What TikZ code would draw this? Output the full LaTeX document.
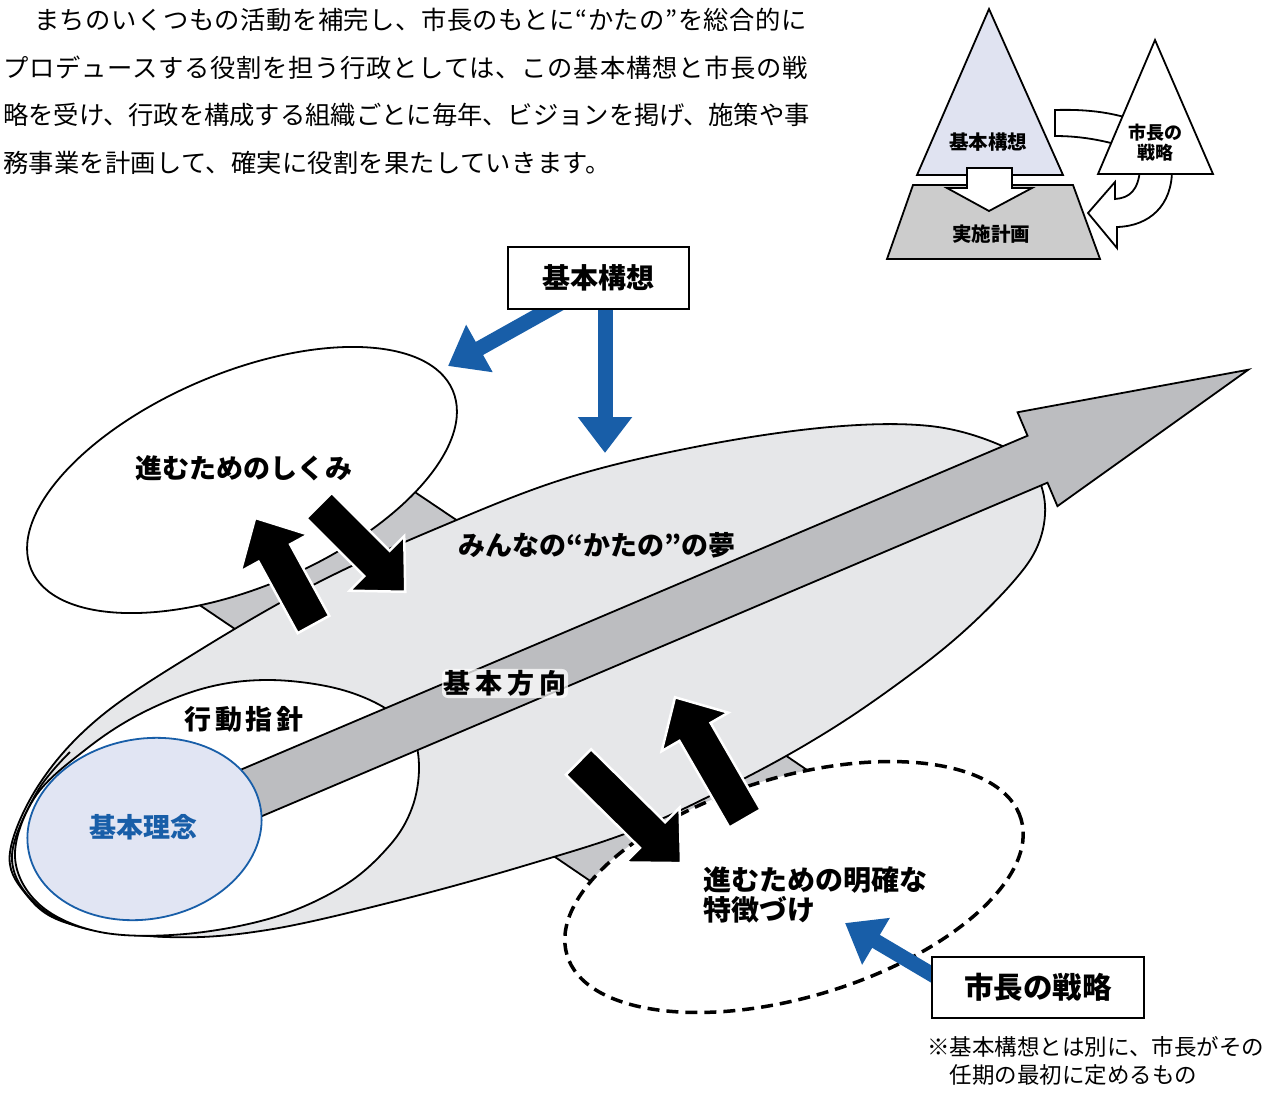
\documentclass[tikz,border=0pt]{standalone}
\usepackage{fontspec}
\setmainfont{Noto Sans CJK JP}
\usetikzlibrary{arrows.meta}
\definecolor{kblue}{RGB}{24,94,168}
\definecolor{dreamgray}{RGB}{230,231,233}
\definecolor{bandgray}{RGB}{198,199,202}
\definecolor{dirgray}{RGB}{188,189,192}
\definecolor{rinenfill}{RGB}{225,229,243}
\definecolor{lavfill}{RGB}{224,227,241}
\definecolor{trapgray}{RGB}{204,204,204}
\pgfdeclarelayer{fg}
\pgfsetlayers{main,fg}

\begin{document}
\begin{tikzpicture}[x=1pt,y=-1pt,
    outl/.style={draw=black, line width=1.8pt},
    intro/.style={anchor=west, inner sep=0pt, font=\fontsize{25.3}{30}\selectfont},
    lbl/.style={inner sep=0pt, font=\fontsize{27}{31}\selectfont\bfseries},
    boxlbl/.style={draw, line width=2.2pt, fill=white, inner sep=0pt,
      font=\fontsize{28}{32}\selectfont\bfseries},
    insetlbl/.style={inner sep=0pt, font=\fontsize{19.5}{21}\selectfont\bfseries},
    band/.style={fill=bandgray, draw=black, line width=1.8pt},
    bluearr/.style={draw=kblue, line width=15pt, -{Triangle[length=36pt,width=52pt]}},
    blkarr/.style={fill=black, draw=white, line width=2.5pt, line join=miter},
    pics/blkarrow/.style={code={
      \filldraw[blkarr] (0,-18) -- ({#1-40},-18) -- ({#1-40},-38.5) -- (#1,0)
        -- ({#1-40},38.5) -- ({#1-40},18) -- (0,18) -- cycle;}}
  ]
  % page
  \fill[white] (0,0) rectangle (1271,1093);
  \useasboundingbox (0,0) rectangle (1271,1093);

  % intro text
  \node[intro] (intro1) at (34,20) {\addfontfeature{LetterSpace=2}まちのいくつもの活動を補完し、市長のもとに“かたの”を総合的に};
  \node[intro] (intro2) at (3,68) {\addfontfeature{LetterSpace=3}プロデュースする役割を担う行政としては、この基本構想と市長の戦};
  \node[intro] (intro3) at (3,115) {略を受け、行政を構成する組織ごとに毎年、ビジョンを掲げ、施策や事};
  \node[intro] (intro4) at (3,163) {\addfontfeature{LetterSpace=1}務事業を計画して、確実に役割を果たしていきます。};

  % bands behind the ellipses
  \draw[band] (365,458.5) -- (498,548) -- (266,650) -- (167,583) -- cycle;
  \draw[band] (735,721) -- (835,789) -- (605,891) -- (505,823) -- cycle;

  % side ellipses
  \draw[outl, fill=white, rotate around={23:(242,480)}] (242,480) ellipse [x radius=229pt, y radius=107pt];
  \draw[fill=white, line width=3.5pt, dash pattern=on 12pt off 7pt, rotate around={16.7:(794,887)}]
    (794,887) ellipse [x radius=237pt, y radius=110pt];

  % the big ellipse
  \draw[outl, fill=dreamgray] plot[smooth cycle, tension=0.6] coordinates {
    (10,852) (40,783) (100,717) (200,650) (317,583) (440,527) (567,478) (700,446)
    (830,427) (930,426) (1000,445) (1033,470) (1045,505) (1038,545) (1013,582)
    (962,633) (903,680) (830,730) (747,777) (640,828) (530,864) (400,900)
    (267,930) (167,937) (67,923) (25,893)};

  % action guideline area
  \draw[outl] plot[smooth, tension=0.6] coordinates {(70,752) (37,792) (12,855) (32,900) (83,928) (170,937)};
  \draw[outl, fill=white] plot[smooth cycle, tension=0.6] coordinates {
    (15,857) (35,797) (85,750) (140,714) (205,688) (268,680) (335,688) (385,708)
    (412,735) (419,768) (412,808) (390,845) (345,885) (275,917) (185,934)
    (100,932) (40,905)};

  % basic direction
  \begin{scope}[shift={(1037.5,459.2)}, rotate=23]
    \filldraw[outl, fill=dirgray, line join=miter] (-910,-25.5) -- (0,-25.5) -- (0,-51)
      -- (229,0) -- (0,51) -- (0,25.5) -- (-910,25.5) -- cycle;
  \end{scope}

  % basic idea
  \draw[draw=kblue, line width=1.8pt, fill=rinenfill, rotate around={11:(144.5,829)}]
    (144.5,829) ellipse [x radius=118pt, y radius=90pt];

  % black arrows
  \pic[rotate=118.7] at (313.5,624.5) {blkarrow=121.5};
  \pic[rotate=-45] at (319,505.5) {blkarrow=122};
  \pic[rotate=-44.6] at (578.5,762) {blkarrow=144};
  \pic[rotate=120] at (745,818.5) {blkarrow=140};

  % labels
  \node[lbl] (shikumi) at (244,468) {進むためのしくみ};
  \node[lbl] (yume) at (597,545) {みんなの“かたの”の夢};
  \node[lbl] (koudou) at (244,719.5) {行\hspace{3.5pt}動\hspace{3.5pt}指\hspace{3.5pt}針};
  \node[lbl, text=kblue] (rinen) at (143,827) {基本理念};
  \node[lbl, fill=white, fill opacity=0.75, text opacity=1, rounded corners=6pt, inner sep=1.5pt]
    (houkou) at (505,683.5) {基\hspace{5pt}本\hspace{5pt}方\hspace{5pt}向};
  \node[lbl, anchor=west, align=left, font=\fontsize{28}{30}\selectfont\bfseries] (tokucho)
    at (703,895) {進むための明確な\\特徴づけ};

  % boxes on top
  \begin{pgfonlayer}{fg}
    \node[boxlbl, minimum width=181pt, minimum height=62pt] (kihon) at (598.5,278) {基本構想};
    \node[boxlbl, minimum width=212pt, minimum height=61pt, font=\fontsize{29.5}{32}\selectfont\bfseries]
      (senryaku) at (1038,987.5) {市長の戦略};
  \end{pgfonlayer}
  \node[anchor=west, inner sep=0pt, align=left, font=\fontsize{22.5}{28}\selectfont] (note)
    at (927,1061) {※基本構想とは別に、市長がその\\\hspace*{1em}任期の最初に定めるもの};

  % blue arrows
  \coordinate (tipL) at (448,366);
  \coordinate (tipV) at (605,453);
  \coordinate (tipS) at (845,923);
  \draw[bluearr] ([xshift=-38pt,yshift=7pt]kihon.south) -- (tipL);
  \draw[bluearr] ([xshift=6.5pt,yshift=8pt]kihon.south) -- (tipV);
  \draw[bluearr] ([xshift=13pt,yshift=6pt]senryaku.west) -- (tipS);

  % inset: plan structure
  \filldraw[outl, fill=white] (1140,122) .. controls (1115,113) and (1090,109) .. (1055,110)
    -- (1055,136) .. controls (1080,136) and (1105,140) .. (1135,150);
  \filldraw[outl, fill=white, line join=miter] (1140,170) .. controls (1138,190) and (1130,198) .. (1115,199)
    -- (1115,182) -- (1088,213) -- (1117,248) -- (1117,227)
    .. controls (1150,226) and (1172,205) .. (1172,170);
  \filldraw[outl, fill=trapgray] (913,185) -- (1073,185) -- (1100,259) -- (887,259) -- cycle;
  \filldraw[outl, fill=lavfill] (989,9) -- (1063,175) -- (917,175) -- cycle;
  \filldraw[outl, fill=white] (1155,40) -- (1213,174) -- (1098,174) -- cycle;
  \filldraw[outl, fill=white, line join=miter] (967,168) -- (1012,168) -- (1012,188) -- (1032,188)
    -- (989,211) -- (947,188) -- (967,188) -- cycle;
  \node[insetlbl] (inkihon) at (988,142) {基本構想};
  \node[insetlbl, align=center, font=\fontsize{18}{20}\selectfont\bfseries] (inshicho) at (1155,142.5) {市長の\\戦略};
  \node[insetlbl] (injisshi) at (991,234) {実施計画};
\end{tikzpicture}
\end{document}
